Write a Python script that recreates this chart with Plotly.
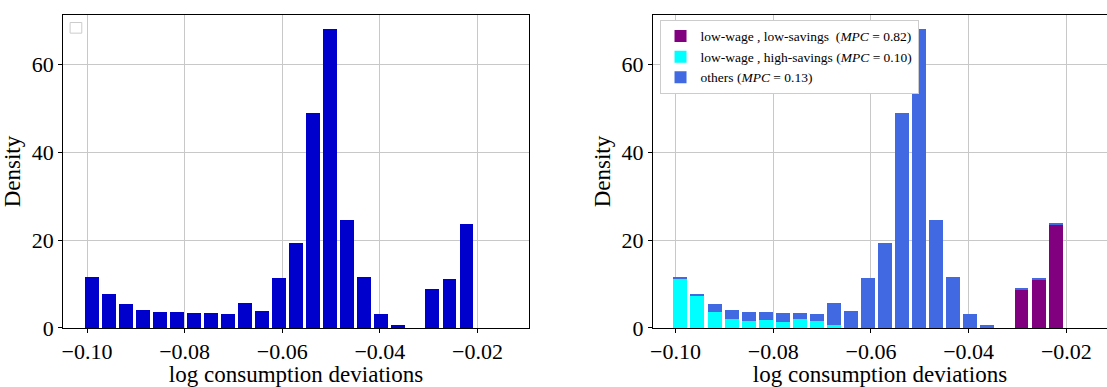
import plotly.graph_objects as go

# ---- data ----
bin_centers = [-0.09900, -0.09551, -0.09202, -0.08853, -0.08504, -0.08155, -0.07806,
               -0.07457, -0.07108, -0.06759, -0.06410, -0.06061, -0.05712, -0.05363,
               -0.05014, -0.04665, -0.04316, -0.03967, -0.03618, -0.03269, -0.02920,
               -0.02571, -0.02222]
density_all = [11.55, 7.57, 5.37, 4.04, 3.60, 3.60, 3.38, 3.38, 3.16, 5.59, 3.82, 11.32,
               19.26, 48.82, 68.01, 24.56, 11.54, 3.16, 0.51, 0.0, 8.90, 11.10, 23.68]
density_low_low = [0, 0, 0, 0, 0, 0, 0, 0, 0, 0, 0, 0, 0, 0, 0, 0, 0, 0, 0, 0,
                   8.68, 10.88, 23.46]
density_low_high = [11.30, 7.33, 3.66, 2.06, 1.62, 1.84, 1.40, 2.06, 1.62, 0.51, 0, 0,
                    0, 0, 0, 0, 0, 0, 0, 0, 0, 0, 0]
density_others = [0.25, 0.24, 1.71, 1.98, 1.98, 1.76, 1.98, 1.32, 1.54, 5.08, 3.82, 11.32,
                  19.26, 48.82, 68.01, 24.56, 11.54, 3.16, 0.51, 0.0, 0.22, 0.22, 0.22]
tick_vals = [-0.10, -0.08, -0.06, -0.04, -0.02]
tick_text = ["\u22120.10", "\u22120.08", "\u22120.06", "\u22120.04", "\u22120.02"]
y_ticks = [0, 20, 40, 60]
names = ["low-wage , low-savings  (<i>MPC</i> = 0.82)",
         "low-wage , high-savings (<i>MPC</i> = 0.10)",
         "others (<i>MPC</i> = 0.13)"]

FONT = "Liberation Serif"
W, H = 1107, 387
bar_w = 0.00286

fig = go.Figure()
fig.add_trace(go.Bar(x=bin_centers, y=density_all, width=bar_w, marker_color="#0000CD",
                     marker_line_width=0, showlegend=False, xaxis="x", yaxis="y"))
for vals, col, nm in [(density_low_low, "#800080", names[0]),
                      (density_low_high, "#00FFFF", names[1]),
                      (density_others, "#4169E1", names[2])]:
    fig.add_trace(go.Bar(x=bin_centers, y=vals, width=bar_w, marker_color=col,
                         marker_line_width=0, name=nm, xaxis="x2", yaxis="y2"))

y0 = 1 - 339.3 / H
y1 = 1 - 15.7 / H
common_x = dict(tickvals=tick_vals, ticktext=tick_text, showgrid=True, gridcolor="#c8c8c8",
                gridwidth=1.2, showline=True, linecolor="black", linewidth=1, ticks="outside",
                ticklen=4, tickcolor="black", zeroline=False, layer="above traces",
                tickfont=dict(family=FONT, size=22, color="black"),
                title=dict(text="log consumption deviations",
                           font=dict(family=FONT, size=23, color="black"), standoff=2))
common_y = dict(tickvals=y_ticks, range=[0, 71.2], showgrid=True, gridcolor="#c8c8c8",
                gridwidth=1.2, showline=True, linecolor="black", linewidth=1, ticks="outside",
                ticklen=4, tickcolor="black", zeroline=False, layer="above traces",
                tickfont=dict(family=FONT, size=22, color="black"),
                title=dict(text="Density", font=dict(family=FONT, size=23, color="black"),
                           standoff=4))

fig.update_layout(
    width=W, height=H, margin=dict(l=0, r=0, t=0, b=0),
    paper_bgcolor="white", plot_bgcolor="white", barmode="relative", bargap=0,
    font=dict(family=FONT, color="black"),
    xaxis=dict(domain=[60.3 / W, 527.3 / W], range=[-0.1049, -0.00947], mirror=True,
               anchor="y", **common_x),
    yaxis=dict(domain=[y0, y1], anchor="x", mirror=True, **common_y),
    xaxis2=dict(domain=[651.7 / W, 1.0], range=[-0.10461, -0.01169], mirror=True,
                anchor="y2", **common_x),
    yaxis2=dict(domain=[y0, y1], anchor="x2", mirror=False, **common_y),
    legend=dict(x=658.3 / W, y=1 - 20.5 / H, xanchor="left", yanchor="top",
                bgcolor="white", bordercolor="#cccccc", borderwidth=1,
                font=dict(family=FONT, size=13.5, color="black"), tracegroupgap=0,
                itemwidth=30, traceorder="normal"),
    shapes=[dict(type="rect", xref="paper", yref="paper",
                 x0=67.3 / W, x1=79 / W, y0=1 - 34.3 / H, y1=1 - 23.3 / H,
                 line=dict(color="#cccccc", width=1), fillcolor="white", layer="above")],
)

fig.write_html("out.html")
